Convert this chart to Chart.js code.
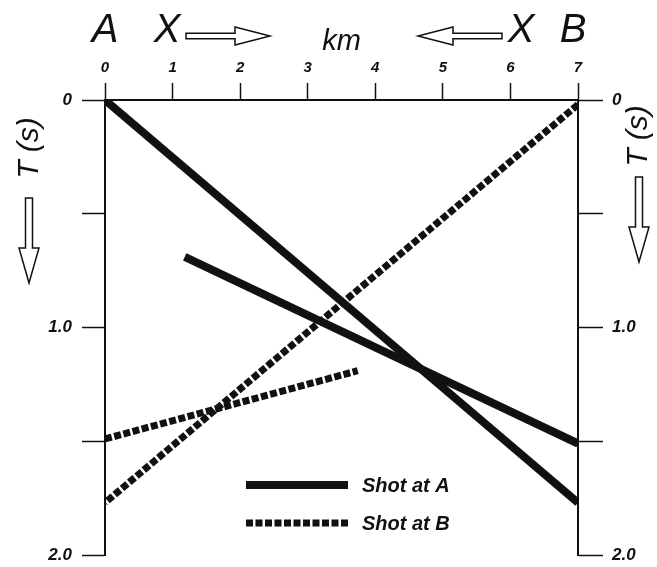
<!DOCTYPE html>
<html>
<head>
<meta charset="utf-8">
<script src="https://cdn.jsdelivr.net/npm/chart.js@4/dist/chart.umd.min.js"></script>
<style>
  html, body { margin: 0; padding: 0; background: #fff; }
  #wrap { width: 657px; height: 567px; }
</style>
</head>
<body>
<div id="wrap"><canvas id="c" width="657" height="567"></canvas></div>
<script>
// ---- data (distance in km, travel time in s) ----
const xTickValuesKm = [0, 1, 2, 3, 4, 5, 6, 7];
const tTickLabels = ['0', '1.0', '2.0'];           // labels at T = 0, 1, 2
const seriesNames = ['Shot at A', 'Shot at B'];

const shotA_direct_x = [0, 7];
const shotA_direct_t = [0, 1.77];
const shotA_refr_x = [1.18, 7];
const shotA_refr_t = [0.69, 1.51];

const shotB_direct_x = [7, 0];
const shotB_direct_t = [0.02, 1.77];
const shotB_refr_x = [0, 3.74];
const shotB_refr_t = [1.49, 1.19];

const FONT = '"Liberation Sans", Arial, Helvetica, sans-serif';
const INK = '#111';

function pts(xs, ts) { return xs.map((x, i) => ({ x: x, y: ts[i] })); }

const solidStyle = { borderColor: INK, borderWidth: 8, borderDash: [], borderCapStyle: 'butt' };
const dashStyle = { borderColor: INK, borderWidth: 7, borderDash: [7, 2.5], borderCapStyle: 'butt' };

const datasets = [
  Object.assign({ label: seriesNames[0], data: pts(shotA_direct_x, shotA_direct_t) }, solidStyle),
  Object.assign({ label: seriesNames[0], data: pts(shotA_refr_x, shotA_refr_t) }, solidStyle),
  Object.assign({ label: seriesNames[1], data: pts(shotB_direct_x, shotB_direct_t) }, dashStyle),
  Object.assign({ label: seriesNames[1], data: pts(shotB_refr_x, shotB_refr_t) }, dashStyle)
].map(d => Object.assign(d, { showLine: true, pointRadius: 0, pointHoverRadius: 0, fill: false, tension: 0, yAxisID: 'y' }));

function hArrow(ctx, x0, x1, hx, yc, sh, hh) {
  ctx.save();
  ctx.beginPath();
  ctx.moveTo(x0, yc - sh); ctx.lineTo(hx, yc - sh); ctx.lineTo(hx, yc - hh);
  ctx.lineTo(x1, yc); ctx.lineTo(hx, yc + hh); ctx.lineTo(hx, yc + sh);
  ctx.lineTo(x0, yc + sh); ctx.closePath();
  ctx.fillStyle = '#fff'; ctx.fill();
  ctx.strokeStyle = INK; ctx.lineWidth = 1.5; ctx.stroke();
  ctx.restore();
}
function vArrow(ctx, xc, y0, y1, hy, sh, hh) {
  ctx.save();
  ctx.beginPath();
  ctx.moveTo(xc - sh, y0); ctx.lineTo(xc - sh, hy); ctx.lineTo(xc - hh, hy);
  ctx.lineTo(xc, y1); ctx.lineTo(xc + hh, hy); ctx.lineTo(xc + sh, hy);
  ctx.lineTo(xc + sh, y0); ctx.closePath();
  ctx.fillStyle = '#fff'; ctx.fill();
  ctx.strokeStyle = INK; ctx.lineWidth = 1.5; ctx.stroke();
  ctx.restore();
}

const decorPlugin = {
  id: 'decor',
  afterDraw(chart) {
    const ctx = chart.ctx;
    const xs = chart.scales.x;
    ctx.save();
    ctx.fillStyle = INK;
    ctx.textBaseline = 'alphabetic';
    ctx.textAlign = 'center';
    ctx.font = 'italic 40px ' + FONT;
    ctx.fillText('A', xs.getPixelForValue(0), 42);
    ctx.fillText('B', xs.getPixelForValue(7) - 5, 42);
    ctx.fillText('X', 167, 42);
    ctx.fillText('X', 521, 42);
    ctx.font = 'italic 29px ' + FONT;
    ctx.fillText('km', (xs.left + xs.right) / 2, 50);
    hArrow(ctx, 186, 270, 235, 36, 2.8, 9);
    hArrow(ctx, 502, 418, 453, 36, 2.8, 9);

    // vertical axis titles
    ctx.fillStyle = INK;
    ctx.font = 'italic 30px ' + FONT;
    ctx.textBaseline = 'middle';
    ctx.textAlign = 'center';
    ctx.save(); ctx.translate(30, 148); ctx.rotate(-Math.PI / 2); ctx.fillText('T (s)', 0, 0); ctx.restore();
    ctx.save(); ctx.translate(639, 136); ctx.rotate(-Math.PI / 2); ctx.fillText('T (s)', 0, 0); ctx.restore();
    vArrow(ctx, 29, 198, 283, 248, 3.5, 10);
    vArrow(ctx, 639, 177, 262, 227, 3.5, 10);

    // legend
    const legendRows = [
      { ds: chart.data.datasets[0], y: 485 },
      { ds: chart.data.datasets[2], y: 523 }
    ];
    ctx.font = 'bold italic 20px ' + FONT;
    ctx.textAlign = 'left';
    legendRows.forEach(r => {
      ctx.save();
      ctx.strokeStyle = r.ds.borderColor;
      ctx.lineWidth = r.ds.borderWidth;
      ctx.setLineDash(r.ds.borderDash || []);
      ctx.lineCap = 'butt';
      ctx.beginPath(); ctx.moveTo(246, r.y); ctx.lineTo(348, r.y); ctx.stroke();
      ctx.restore();
      ctx.fillStyle = INK;
      ctx.fillText(r.ds.label, 362, r.y + 1);
    });
    ctx.restore();
  }
};

const xTickFont = { family: FONT, size: 15, style: 'italic', weight: 'bold' };
const yTickFont = { family: FONT, size: 17, style: 'italic', weight: 'bold' };
function tLabel(v) {
  const i = Math.round(v);
  return Math.abs(v - i) < 1e-6 ? tTickLabels[i] : '';
}

new Chart(document.getElementById('c'), {
  type: 'scatter',
  data: { datasets: datasets },
  options: {
    responsive: false,
    animation: false,
    events: [],
    layout: { padding: { left: 0, right: 0, top: 0, bottom: 12 } },
    plugins: { legend: { display: false }, tooltip: { enabled: false }, title: { display: false } },
    scales: {
      x: {
        type: 'linear', position: 'top', min: 0, max: 7,
        afterBuildTicks(s) { s.ticks = xTickValuesKm.map(v => ({ value: v })); },
        ticks: { color: INK, font: xTickFont, padding: 6, maxRotation: 0, autoSkip: false },
        grid: { drawOnChartArea: false, drawTicks: true, tickLength: 17, tickColor: INK, tickWidth: 1.5 },
        border: { display: true, color: INK, width: 2 },
        afterFit(s) { s.height = 100; s.paddingLeft = 0; s.paddingRight = 0; }
      },
      y: {
        type: 'linear', position: 'left', reverse: true, min: 0, max: 2,
        ticks: { stepSize: 0.5, color: INK, font: yTickFont, padding: 10, callback: tLabel, autoSkip: false },
        grid: { drawOnChartArea: false, drawTicks: true, tickLength: 23, tickColor: INK, tickWidth: 1.5 },
        border: { display: true, color: INK, width: 2 },
        afterFit(s) { s.width = 105; s.paddingTop = 0; s.paddingBottom = 0; }
      },
      y2: {
        type: 'linear', position: 'right', reverse: true, min: 0, max: 2,
        ticks: { stepSize: 0.5, color: INK, font: yTickFont, padding: 9, callback: tLabel, autoSkip: false },
        grid: { drawOnChartArea: false, drawTicks: true, tickLength: 25, tickColor: INK, tickWidth: 1.5 },
        border: { display: true, color: INK, width: 2 },
        afterFit(s) { s.width = 79; s.paddingTop = 0; s.paddingBottom = 0; }
      }
    }
  },
  plugins: [decorPlugin]
});
</script>
</body>
</html>
